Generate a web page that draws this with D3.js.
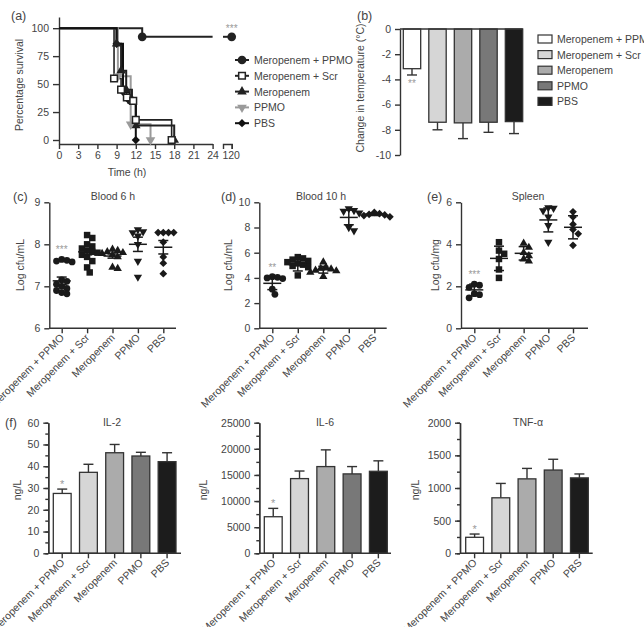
<!DOCTYPE html>
<html><head><meta charset="utf-8">
<script src="https://cdn.jsdelivr.net/npm/d3@7"></script>
<style>
body{margin:0;background:#fff;}
svg text{font-family:"Liberation Sans",Arial,sans-serif;fill:#444;}
</style></head><body>
<svg id="c" width="644" height="627"></svg>
<script>
// ---------------- DATA ----------------
const groups = ["Meropenem + PPMO","Meropenem + Scr","Meropenem","PPMO","PBS"];

// (a) survival (time in h, % survival)
const survTicks = [0,3,6,9,12,15,18,21,24];
const survT_MPPMO = [0,13,24];       const survS_MPPMO = [100,92.3,92.3];
const survEnd_MPPMO = [120];          const survEndS_MPPMO = [92.3];
const survT_Scr = [0,8.6,9.7,10.6,11.6,12,17.6]; const survS_Scr = [100,55,45,38,35,18,0];
const survT_Mer = [0,9,9.7,10.5,11.4,12,18];     const survS_Mer = [100,86,62,45,35,13,0];
const survT_PPMO = [0,9.2,11.2,14.3];            const survS_PPMO = [100,57,14,0];
const survT_PBS = [0,9,10,11,12];                const survS_PBS = [100,86,43,35,0];

// (b) change in temperature
const tempMean = [-3.15,-7.4,-7.45,-7.4,-7.35];
const tempErr  = [0.5,0.6,1.25,0.8,0.95];
const tempTicks = [0,-2,-4,-6,-8,-10];

// (c) Blood 6 h
const blood6 = [
  [7.64,7.62,7.60,7.58,7.15,7.12,7.05,7.0,6.95,6.9,6.85,6.82],
  [8.22,8.15,8.0,7.95,7.9,7.85,7.82,7.8,7.75,7.7,7.6,7.45,7.33],
  [7.88,7.85,7.82,7.8,7.78,7.75,7.7,7.45,7.42],
  [8.35,8.3,8.28,8.2,8.0,7.6,7.22],
  [8.28,8.28,8.28,8.28,8.05,7.7,7.55,7.3]
];
const blood6Mean = [7.13,7.82,7.72,8.0,7.93];
const blood6Err  = [0.09,0.07,0.05,0.17,0.16];
const blood6Ticks = [6,7,8,9];

// (d) Blood 10 h
const blood10 = [
  [4.1,4.05,4.0,3.95,3.1,2.7],
  [5.65,5.55,5.45,5.35,5.25,5.15,5.05,4.95,4.85,4.2],
  [5.25,4.85,4.75,4.7,4.6,4.55,4.45,4.1],
  [9.5,9.35,9.3,9.15,8.0,7.75],
  [9.2,9.1,9.05,9.0,8.95,8.85]
];
const blood10Mean = [3.57,5.05,4.65,8.8,9.05];
const blood10Err  = [0.5,0.5,0.27,0.58,0.1];
const blood10Ticks = [0,2,4,6,8,10];

// (e) Spleen
const spleen = [
  [2.1,2.05,1.95,1.65,1.6,1.45],
  [4.1,3.7,3.55,3.3,2.8,2.4],
  [4.05,3.85,3.6,3.45,3.3,3.2],
  [5.75,5.72,5.6,5.3,4.9,4.1],
  [5.55,5.3,4.95,4.7,4.5,3.95]
];
const spleenMean = [1.83,3.33,3.57,5.16,4.81];
const spleenErr  = [0.28,0.58,0.32,0.57,0.55];
const spleenTicks = [0,2,4,6];

// (f) cytokines
const il2Mean = [27.5,37.2,46.2,44.7,42.1];
const il2Err  = [2,3.7,3.8,1.7,4.1];
const il2Ticks = [0,10,20,30,40,50,60];
const il6Mean = [7000,14300,16600,15200,15700];
const il6Err  = [1600,1450,3200,1400,2000];
const il6Ticks = [0,5000,10000,15000,20000,25000];
const tnfMean = [245,850,1140,1275,1155];
const tnfErr  = [50,220,160,165,60];
const tnfTicks = [0,500,1000,1500,2000];

// ---------------- STYLE ----------------
const barFills = ["#ffffff","#d6d6d6","#ababab","#787878","#1c1c1c"];
const AX = "#333";
const FS = 10.5;
const STAR = "#9a9a9a";
const fmt = d => d<0 ? "-"+Math.abs(d) : String(d);
const svg = d3.select("#c");

function styleAxis(g){
  g.attr("font-family",null).attr("font-size",FS);
  g.selectAll("path,line").attr("stroke",AX).attr("stroke-width",1.4);
  g.selectAll("text").attr("fill","#444");
}
function txt(x,y,s,opt={}){
  const t = svg.append("text").attr("x",x).attr("y",y).text(s)
    .attr("font-size",opt.size||FS).attr("text-anchor",opt.anchor||"start");
  if(opt.fill) t.style("fill",opt.fill);
  if(opt.rot) t.attr("transform",`rotate(${opt.rot},${x},${y})`);
  return t;
}
function shapePath(i,size){
  const types=[d3.symbolCircle,d3.symbolSquare,d3.symbolTriangle,d3.symbolTriangle,d3.symbolSquare];
  return d3.symbol().type(types[i]).size(size)();
}
function shapeRot(i){ return i===3?180:(i===4?45:0); }
const shapeSizes=[36,42,30,30,30];

// ---------------- (a) survival ----------------
(function(){
  const x = d3.scaleLinear().domain([0,24]).range([59,212.6]);
  const x2 = d3.scaleLinear().domain([119,120]).range([223,231.7]);
  const y = d3.scaleLinear().domain([-3.57,110]).range([144,17]);
  const gy = svg.append("g").attr("transform","translate(59,0)")
    .call(d3.axisLeft(y).tickValues([0,25,50,75,100]).tickFormat(fmt).tickSize(6).tickPadding(4).tickSizeOuter(0));
  styleAxis(gy);
  const gx = svg.append("g").attr("transform","translate(0,144)")
    .call(d3.axisBottom(x).tickValues(survTicks).tickFormat(fmt).tickSize(5).tickPadding(3).tickSizeOuter(0));
  styleAxis(gx);
  const gx2 = svg.append("g").attr("transform","translate(0,144)")
    .call(d3.axisBottom(x2).tickValues([120]).tickFormat(fmt).tickSize(5).tickPadding(3).tickSizeOuter(5));
  styleAxis(gx2);
  gx2.selectAll(".tick text").attr("dx",-1);

  const curves = [
    {t:survT_MPPMO,s:survS_MPPMO,c:"#222",sh:0},
    {t:survT_Scr,s:survS_Scr,c:"#222",sh:1,open:true},
    {t:survT_PPMO,s:survS_PPMO,c:"#9a9a9a",sh:3},
    {t:survT_Mer,s:survS_Mer,c:"#222",sh:2},
    {t:survT_PBS,s:survS_PBS,c:"#111",sh:4}
  ];
  const line = d3.line().x(d=>x(d[0])).y(d=>y(d[1])).curve(d3.curveStepAfter);
  curves.forEach(cv=>{
    const pts = cv.t.map((t,i)=>[t,cv.s[i]]);
    svg.append("path").attr("d",line(pts)).attr("fill","none")
      .attr("stroke",cv.c).attr("stroke-width",cv.open?1.6:2);
  });
  curves.slice().reverse().forEach(cv=>{
    const sizes=[60,44,40,40,34];
    cv.t.forEach((t,i)=>{
      if(i===0) return;
      if(cv.sh===0 && i===cv.t.length-1) return;
      svg.append("path").attr("d",shapePath(cv.sh,sizes[cv.sh]))
        .attr("transform",`translate(${x(t)},${y(cv.s[i])}) rotate(${shapeRot(cv.sh)})`)
        .attr("fill",cv.open?"#fff":cv.c).attr("stroke",cv.c).attr("stroke-width",cv.open?1.5:0);
    });
  });
  const endPts = [[119,survEndS_MPPMO[0]],[survEnd_MPPMO[0],survEndS_MPPMO[0]]];
  svg.append("path").attr("d",d3.line().x(d=>x2(d[0])).y(d=>y(d[1]))(endPts))
    .attr("stroke","#222").attr("stroke-width",2);
  svg.append("path").attr("d",shapePath(0,60))
    .attr("transform",`translate(${x2(survEnd_MPPMO[0])},${y(survEndS_MPPMO[0])})`).attr("fill","#222");
  txt(x2(120),y(92.3)-5,"***",{anchor:"middle",fill:STAR,size:10});

  txt(23,85,"Percentage survival",{anchor:"middle",rot:-90});
  txt(127,176,"Time (h)",{anchor:"middle"});
  txt(11,20,"(a)",{size:12.5});

  const legShapes=[{sh:0,c:"#222"},{sh:1,c:"#222",open:true},{sh:2,c:"#222"},{sh:3,c:"#9a9a9a"},{sh:4,c:"#111"}];
  groups.forEach((g,k)=>{
    const ly = 60 + k*15.8;
    const L=legShapes[k];
    svg.append("line").attr("x1",235).attr("x2",249).attr("y1",ly).attr("y2",ly)
      .attr("stroke",L.c).attr("stroke-width",2);
    svg.append("path").attr("d",shapePath(L.sh,[60,44,40,40,34][L.sh]))
      .attr("transform",`translate(242,${ly}) rotate(${shapeRot(L.sh)})`)
      .attr("fill",L.open?"#fff":L.c).attr("stroke",L.c).attr("stroke-width",L.open?1.5:0);
    txt(254,ly+4,g);
  });
})();

// ---------------- (b) temperature ----------------
(function(){
  const y = d3.scaleLinear().domain([-10,0]).range([155,29]);
  const x = d3.scaleBand().domain(groups).range([403.3,522.7]).paddingInner(0.318).paddingOuter(0);
  const gy = svg.append("g").attr("transform","translate(400,0)")
    .call(d3.axisLeft(y).tickValues(tempTicks).tickSize(5).tickPadding(4).tickSizeOuter(0).tickFormat(fmt));
  styleAxis(gy);
  groups.forEach((g,i)=>{
    const cx = x(g)+x.bandwidth()/2;
    const e = y(tempMean[i]-tempErr[i]);
    svg.append("line").attr("x1",cx).attr("x2",cx).attr("y1",y(tempMean[i])).attr("y2",e).attr("stroke",AX).attr("stroke-width",1.4);
    svg.append("line").attr("x1",cx-5).attr("x2",cx+5).attr("y1",e).attr("y2",e).attr("stroke",AX).attr("stroke-width",1.4);
    svg.append("rect").attr("x",x(g)).attr("y",y(0)).attr("width",x.bandwidth())
      .attr("height",y(tempMean[i])-y(0)).attr("fill",barFills[i]).attr("stroke",AX).attr("stroke-width",1.3);
  });
  svg.append("line").attr("x1",400).attr("x2",522.7).attr("y1",y(0)).attr("y2",y(0)).attr("stroke",AX).attr("stroke-width",1.4);
  const cx0 = x(groups[0])+x.bandwidth()/2;
  txt(cx0,y(tempMean[0]-tempErr[0])+12,"**",{anchor:"middle",fill:STAR,size:10});
  txt(364,88,"Change in temperature (°C)",{anchor:"middle",rot:-90});
  txt(357,20,"(b)",{size:12.5});
  groups.forEach((g,k)=>{
    const ly = 39 + k*15.6;
    svg.append("rect").attr("x",538).attr("y",ly-4).attr("width",14).attr("height",8)
      .attr("fill",barFills[k]).attr("stroke",AX).attr("stroke-width",1.2);
    txt(557,ly+4,g);
  });
})();

// ---------------- scatter panels ----------------
function swarm(ys, minDist, step){
  const order = d3.range(ys.length).sort((a,b)=>ys[a]-ys[b]);
  const placed=[]; const off=new Array(ys.length).fill(0);
  for(const i of order){
    for(let k=0;k<60;k++){
      const o = k===0?0:(k%2?1:-1)*Math.ceil(k/2)*step;
      if(placed.every(p=>Math.hypot(p.x-o,p.y-ys[i])>=minDist)){off[i]=o;placed.push({x:o,y:ys[i]});break;}
    }
  }
  return off;
}
function xLabels(x,axisY){
  groups.forEach(g=>{
    const cx = x(g) + (x.bandwidth?x.bandwidth()/2:0);
    txt(cx+3,axisY+10,g,{anchor:"end",rot:-45});
  });
}
function scatterPanel(o){
  const y = d3.scaleLinear().domain(o.domain).range([328.3,202.3]);
  const x = d3.scalePoint().domain(groups).range(o.xr);
  const gy = svg.append("g").attr("transform",`translate(${o.ax},0)`)
    .call(d3.axisLeft(y).tickValues(o.ticks).tickFormat(fmt).tickSize(5).tickPadding(4).tickSizeOuter(0));
  styleAxis(gy);
  const gx = svg.append("g").attr("transform","translate(0,328.3)")
    .call(d3.axisBottom(x).tickSize(5).tickFormat(""));
  gx.select(".domain").remove();
  styleAxis(gx);
  svg.append("line").attr("x1",o.ax).attr("x2",o.xend).attr("y1",328.3).attr("y2",328.3).attr("stroke",AX).attr("stroke-width",1.4);
  xLabels(x,328.3);
  groups.forEach((g,i)=>{
    const cx=x(g);
    const ys=o.pts[i].map(v=>y(v));
    const off=swarm(ys,5.2,2.6);
    ys.forEach((yy,j)=>{
      svg.append("path").attr("d",shapePath(i,shapeSizes[i]))
        .attr("transform",`translate(${cx+off[j]},${yy}) rotate(${shapeRot(i)})`).attr("fill","#1a1a1a");
    });
    const m=y(o.mean[i]), hi=y(o.mean[i]+o.err[i]), lo=y(o.mean[i]-o.err[i]);
    const ln=(x1,x2,y1,y2)=>svg.append("line").attr("x1",x1).attr("x2",x2).attr("y1",y1).attr("y2",y2)
      .attr("stroke","#1a1a1a").attr("stroke-width",1.5);
    ln(cx-9,cx+9,m,m); ln(cx,cx,hi,lo); ln(cx-5,cx+5,hi,hi); ln(cx-5,cx+5,lo,lo);
  });
  txt(x(groups[0]),y(d3.max(o.pts[0]))-6,o.star,{anchor:"middle",fill:STAR,size:10});
  txt(o.titleX,200,o.title,{anchor:"middle"});
  txt(o.letterX,201,o.letter,{size:12.5});
  txt(o.ylabX,265,o.ylab,{anchor:"middle",rot:-90});
}
scatterPanel({domain:[6,9],ticks:blood6Ticks,ax:49.3,xend:176,xr:[61.7,163.3],pts:blood6,mean:blood6Mean,err:blood6Err,
  star:"***",title:"Blood 6 h",titleX:113,letter:"(c)",letterX:13,ylab:"Log cfu/mL",ylabX:24});
scatterPanel({domain:[0,10],ticks:blood10Ticks,ax:259.3,xend:386.7,xr:[272.3,374.3],pts:blood10,mean:blood10Mean,err:blood10Err,
  star:"**",title:"Blood 10 h",titleX:321,letter:"(d)",letterX:221,ylab:"Log cfu/mL",ylabX:232});
scatterPanel({domain:[0,6],ticks:spleenTicks,ax:461,xend:588,xr:[474.3,573],pts:spleen,mean:spleenMean,err:spleenErr,
  star:"***",title:"Spleen",titleX:528,letter:"(e)",letterX:427,ylab:"Log cfu/mg",ylabX:439});

// ---------------- bar panels (f) ----------------
function barPanel(o){
  const y = d3.scaleLinear().domain([0,o.max]).range([553.3,422.7]);
  const x = d3.scaleBand().domain(groups).range(o.xr).paddingInner(0.32).paddingOuter(0);
  const minor = d3.range(0,o.max+1e-9,o.minor);
  const gm = svg.append("g").attr("transform",`translate(${o.ax},0)`)
    .call(d3.axisLeft(y).tickValues(minor).tickSize(3).tickFormat("").tickSizeOuter(0));
  styleAxis(gm);
  const gy = svg.append("g").attr("transform",`translate(${o.ax},0)`)
    .call(d3.axisLeft(y).tickValues(o.ticks).tickFormat(fmt).tickSize(5).tickPadding(4).tickSizeOuter(0));
  styleAxis(gy);
  groups.forEach((g,i)=>{
    const cx=x(g)+x.bandwidth()/2;
    const e=y(o.mean[i]+o.err[i]);
    svg.append("line").attr("x1",cx).attr("x2",cx).attr("y1",y(o.mean[i])).attr("y2",e).attr("stroke",AX).attr("stroke-width",1.4);
    svg.append("line").attr("x1",cx-5).attr("x2",cx+5).attr("y1",e).attr("y2",e).attr("stroke",AX).attr("stroke-width",1.4);
    svg.append("rect").attr("x",x(g)).attr("y",y(o.mean[i])).attr("width",x.bandwidth())
      .attr("height",y(0)-y(o.mean[i])).attr("fill",barFills[i]).attr("stroke",AX).attr("stroke-width",1.3);
  });
  const gx = svg.append("g").attr("transform","translate(0,553.3)")
    .call(d3.axisBottom(x).tickSize(5).tickFormat(""));
  gx.select(".domain").remove();
  styleAxis(gx);
  svg.append("line").attr("x1",o.ax).attr("x2",o.xend).attr("y1",553.3).attr("y2",553.3).attr("stroke",AX).attr("stroke-width",1.4);
  xLabels(x,553.3);
  const c0=x(groups[0])+x.bandwidth()/2;
  txt(c0,y(o.mean[0]+o.err[0])-1,"*",{anchor:"middle",fill:STAR,size:11});
  txt(o.titleX,426,o.title,{anchor:"middle"});
  txt(o.ylabX,490,"ng/L",{anchor:"middle",rot:-90});
}
barPanel({max:60,ticks:il2Ticks,minor:5,ax:48.3,xend:181,xr:[53.3,176],mean:il2Mean,err:il2Err,title:"IL-2",titleX:112,ylabX:21});
barPanel({max:25000,ticks:il6Ticks,minor:2500,ax:259.3,xend:391,xr:[264.3,387.3],mean:il6Mean,err:il6Err,title:"IL-6",titleX:325,ylabX:207});
barPanel({max:2000,ticks:tnfTicks,minor:250,ax:460,xend:592.7,xr:[465.7,588.3],mean:tnfMean,err:tnfErr,title:"TNF-α",titleX:528,ylabX:419});
txt(5,427,"(f)",{size:12.5});
</script>
</body></html>
